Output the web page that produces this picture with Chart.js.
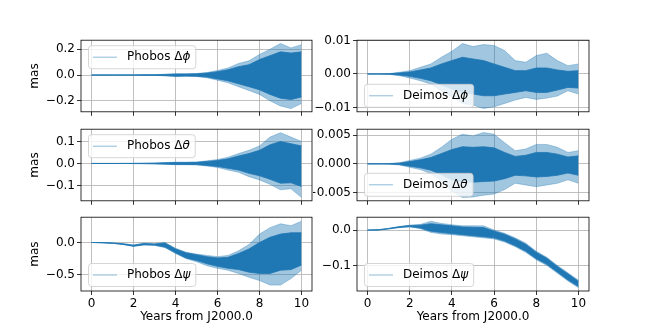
<!DOCTYPE html>
<html>
<head>
<meta charset="utf-8">
<script src="https://cdn.jsdelivr.net/npm/chart.js@4"></script>
<style>
  html, body { margin: 0; padding: 0; background: #fff; }
  #fig { position: relative; width: 654px; height: 327px; overflow: hidden; }
  #fig canvas { position: absolute; }
</style>
</head>
<body>
<div id="fig">
  <canvas id="phobosPhi"   width="313" height="90"  style="left:0;top:31px"></canvas>
  <canvas id="deimosPhi"   width="287" height="90"  style="left:313px;top:31px"></canvas>
  <canvas id="phobosTheta" width="313" height="90"  style="left:0;top:120px"></canvas>
  <canvas id="deimosTheta" width="287" height="90"  style="left:313px;top:120px"></canvas>
  <canvas id="phobosPsi"   width="313" height="119" style="left:0;top:208px"></canvas>
  <canvas id="deimosPsi"   width="287" height="119" style="left:313px;top:208px"></canvas>
</div>
<script>
// sample times (years from J2000.0) at which the envelopes were read
const years = [0, 0.5, 1, 1.5, 2, 2.5, 3, 3.5, 4, 4.5, 5, 5.5, 6, 6.5, 7, 7.5, 8, 8.5, 9, 9.5, 10];
const yearTicks = [0, 2, 4, 6, 8, 10];

// outer = extent of the light spikes, inner = dark core of the signal (mas)
const phobosPhiOuterHi = [0, 0, 0, 0.001, 0.001, 0.002, 0.003, 0.006, 0.01, 0.01, 0.012, 0.02, 0.035, 0.055, 0.09, 0.11, 0.16, 0.2, 0.245, 0.21, 0.235];
const phobosPhiOuterLo = [0, 0, 0, -0.001, -0.001, -0.002, -0.003, -0.006, -0.012, -0.01, -0.012, -0.022, -0.04, -0.06, -0.09, -0.12, -0.15, -0.2, -0.24, -0.26, -0.22];
const phobosPhiInnerHi = [0, 0, 0, 0.0007, 0.0007, 0.0015, 0.0022, 0.0045, 0.0075, 0.0075, 0.009, 0.015, 0.026, 0.041, 0.065, 0.08, 0.12, 0.15, 0.18, 0.17, 0.18];
const phobosPhiInnerLo = [0, 0, 0, -0.0007, -0.0007, -0.0015, -0.0022, -0.0045, -0.009, -0.0075, -0.009, -0.016, -0.03, -0.045, -0.068, -0.09, -0.115, -0.15, -0.18, -0.19, -0.17];
const phobosPhiTicks = [-0.2, 0, 0.2];

const deimosPhiOuterHi = [0, 0, 0.0001, 0.0005, 0.001, 0.002, 0.003, 0.005, 0.0068, 0.0091, 0.0082, 0.0088, 0.0085, 0.007, 0.004, 0.0035, 0.0055, 0.0062, 0.004, 0.0025, 0.003];
const deimosPhiOuterLo = [0, 0, -0.0001, -0.0005, -0.0012, -0.002, -0.003, -0.005, -0.0068, -0.0088, -0.0093, -0.0103, -0.0098, -0.0088, -0.0078, -0.007, -0.0076, -0.0072, -0.0066, -0.005, -0.006];
const deimosPhiInnerHi = [0, 0, 0.00005, 0.0003, 0.0006, 0.0012, 0.0018, 0.003, 0.004, 0.005, 0.0045, 0.004, 0.003, 0.002, 0.001, 0.001, 0.0018, 0.0018, 0.0012, 0.0008, 0.001];
const deimosPhiInnerLo = [0, 0, -0.00005, -0.0003, -0.0007, -0.0013, -0.002, -0.0032, -0.0045, -0.0055, -0.006, -0.0065, -0.0065, -0.006, -0.0055, -0.005, -0.0055, -0.0055, -0.0048, -0.004, -0.0042];
const deimosPhiTicks = [-0.01, 0, 0.01];

const phobosThetaOuterHi = [0, 0, 0, 0, 0.0005, 0.001, 0.002, 0.004, 0.006, 0.006, 0.007, 0.012, 0.018, 0.028, 0.045, 0.06, 0.08, 0.12, 0.14, 0.12, 0.1];
const phobosThetaOuterLo = [0, 0, 0, 0, -0.0005, -0.001, -0.002, -0.004, -0.006, -0.006, -0.007, -0.012, -0.018, -0.03, -0.04, -0.06, -0.075, -0.095, -0.12, -0.115, -0.155];
const phobosThetaInnerHi = [0, 0, 0, 0, 0.0004, 0.0008, 0.0015, 0.003, 0.0045, 0.0045, 0.005, 0.009, 0.0135, 0.021, 0.034, 0.045, 0.06, 0.085, 0.1, 0.09, 0.08];
const phobosThetaInnerLo = [0, 0, 0, 0, -0.0004, -0.0008, -0.0015, -0.003, -0.0045, -0.0045, -0.005, -0.009, -0.0135, -0.022, -0.03, -0.045, -0.056, -0.072, -0.09, -0.088, -0.105];
const phobosThetaTicks = [-0.1, 0, 0.1];

const deimosThetaOuterHi = [0, 0, 0.00005, 0.0002, 0.0006, 0.001, 0.0017, 0.0029, 0.0043, 0.0052, 0.0049, 0.0055, 0.0052, 0.0037, 0.0023, 0.0026, 0.0034, 0.0034, 0.0029, 0.002, 0.0023];
const deimosThetaOuterLo = [0, 0, -0.00005, -0.0002, -0.0006, -0.001, -0.0017, -0.003, -0.0048, -0.0059, -0.0058, -0.0055, -0.0053, -0.0045, -0.0034, -0.0037, -0.004, -0.0037, -0.0034, -0.0028, -0.0034];
const deimosThetaInnerHi = [0, 0, 0.00003, 0.00012, 0.0004, 0.0007, 0.0011, 0.0018, 0.0025, 0.003, 0.0029, 0.003, 0.0028, 0.002, 0.0013, 0.0015, 0.002, 0.002, 0.0017, 0.0012, 0.0014];
const deimosThetaInnerLo = [0, 0, -0.00003, -0.00012, -0.0004, -0.0007, -0.0011, -0.0019, -0.0028, -0.0032, -0.0032, -0.0031, -0.003, -0.0026, -0.002, -0.0021, -0.0023, -0.0022, -0.002, -0.0016, -0.002];
const deimosThetaTicks = [-0.005, 0, 0.005];

const phobosPsiOuterHi = [0, -0.001, -0.006, -0.018, -0.04, -0.01, -0.02, 0, -0.09, -0.15, -0.18, -0.2, -0.22, -0.2, -0.13, -0.03, 0.13, 0.23, 0.29, 0.26, 0.33];
const phobosPsiOuterLo = [0, -0.005, -0.014, -0.032, -0.06, -0.04, -0.045, -0.08, -0.17, -0.25, -0.3, -0.36, -0.4, -0.43, -0.48, -0.54, -0.59, -0.66, -0.66, -0.56, -0.43];
const phobosPsiInnerHi = [0, -0.002, -0.008, -0.02, -0.042, -0.015, -0.024, -0.008, -0.1, -0.16, -0.19, -0.22, -0.24, -0.23, -0.17, -0.1, 0, 0.08, 0.13, 0.15, 0.15];
const phobosPsiInnerLo = [0, -0.004, -0.012, -0.03, -0.058, -0.035, -0.04, -0.07, -0.16, -0.24, -0.28, -0.33, -0.37, -0.4, -0.42, -0.46, -0.48, -0.48, -0.43, -0.42, -0.35];
const phobosPsiTicks = [-0.5, 0];

const deimosPsiOuterHi = [0, 0.001, 0.005, 0.01, 0.014, 0.016, 0.025, 0.019, 0.015, 0.012, 0.012, 0.012, 0, -0.009, -0.022, -0.037, -0.06, -0.077, -0.1, -0.121, -0.142];
const deimosPsiOuterLo = [0, 0, 0.003, 0.007, 0.009, 0.004, -0.0065, -0.011, -0.013, -0.016, -0.019, -0.022, -0.025, -0.034, -0.047, -0.063, -0.084, -0.1, -0.122, -0.144, -0.163];
const deimosPsiInnerHi = [0, 0.001, 0.0045, 0.0095, 0.013, 0.014, 0.018, 0.015, 0.012, 0.009, 0.008, 0.007, -0.003, -0.012, -0.025, -0.04, -0.063, -0.08, -0.103, -0.124, -0.145];
const deimosPsiInnerLo = [0, 0, 0.0035, 0.0075, 0.01, 0.006, -0.003, -0.007, -0.01, -0.013, -0.016, -0.019, -0.022, -0.031, -0.044, -0.06, -0.081, -0.097, -0.119, -0.141, -0.16];
const deimosPsiTicks = [-0.1, 0];

const BLUE = '#1f77b4';
const LIGHT = 'rgba(31,119,180,0.42)';
const FONT = "'DejaVu Sans', sans-serif";

// box around the axes (drawn over the data like matplotlib spines)
const frame = {
    id: 'frame',
    afterDatasetsDraw(chart) {
        const { ctx, chartArea: a } = chart;
        ctx.save();
        ctx.strokeStyle = '#000';
        ctx.lineWidth = 0.8;
        ctx.strokeRect(a.left, a.top, a.right - a.left, a.bottom - a.top);
        ctx.restore();
    }
};

// matplotlib-like legend with an italic greek symbol
const bandLegend = {
    id: 'bandLegend',
    afterDraw(chart, args, opts) {
        const { ctx, chartArea: a } = chart;
        ctx.save();
        ctx.font = "12px " + FONT;
        const w1 = ctx.measureText(opts.name).width;
        ctx.font = "italic 12px " + FONT;
        const w2 = ctx.measureText(opts.symbol).width;
        const bw = 39 + w1 + w2 + 5, bh = 23;
        const x = a.left + 7;
        const y = opts.where === 'upper' ? a.top + 5 : a.bottom - 5 - bh;
        ctx.beginPath();
        ctx.roundRect(x + 0.5, y + 0.5, bw, bh, 3);
        ctx.fillStyle = 'rgba(255,255,255,0.8)';
        ctx.fill();
        ctx.strokeStyle = '#cccccc';
        ctx.lineWidth = 0.8;
        ctx.stroke();
        const my = y + bh / 2 + 0.5;
        ctx.beginPath();
        ctx.moveTo(x + 5, my);
        ctx.lineTo(x + 29, my);
        ctx.strokeStyle = 'rgba(31,119,180,0.5)';
        ctx.lineWidth = 1;
        ctx.stroke();
        ctx.fillStyle = '#000';
        ctx.textBaseline = 'middle';
        ctx.font = "12px " + FONT;
        ctx.fillText(opts.name, x + 39, my);
        ctx.font = "italic 12px " + FONT;
        ctx.fillText(opts.symbol, x + 39 + w1, my);
        ctx.restore();
    }
};

function band(values, color, fill) {
    return {
        data: years.map((t, i) => ({ x: t, y: values[i] })),
        borderColor: color,
        backgroundColor: color,
        borderWidth: 0.8,
        pointRadius: 0,
        fill: fill
    };
}

function panel(id, p) {
    new Chart(document.getElementById(id), {
        type: 'line',
        data: {
            datasets: [
                band(p.innerHi, BLUE, '+1'),
                band(p.innerLo, BLUE, false),
                band(p.outerHi, LIGHT, '+1'),
                band(p.outerLo, LIGHT, false)
            ]
        },
        options: {
            responsive: false,
            animation: false,
            events: [],
            layout: { padding: { top: 8, bottom: 0, left: 0, right: p.right ? 11 : 1 } },
            plugins: {
                legend: { display: false },
                tooltip: { enabled: false },
                bandLegend: { name: p.name, symbol: p.symbol, where: p.where }
            },
            scales: {
                x: {
                    type: 'linear',
                    min: -0.5,
                    max: 10.5,
                    afterBuildTicks: s => { s.ticks = yearTicks.map(v => ({ value: v })); },
                    afterFit: s => { s.height = p.bottom ? 36 : 8; },
                    grid: { color: '#b0b0b0', lineWidth: 0.8, tickColor: '#000', tickLength: 4, tickWidth: 0.8 },
                    border: { display: false },
                    ticks: {
                        display: p.bottom,
                        color: '#000',
                        padding: 2,
                        maxRotation: 0,
                        font: { family: FONT, size: 12 },
                        callback: v => String(v)
                    },
                    title: {
                        display: p.bottom,
                        text: 'Years from J2000.0',
                        color: '#000',
                        font: { family: FONT, size: 12 },
                        padding: { top: 0, bottom: 3 }
                    }
                },
                y: {
                    min: p.min,
                    max: p.max,
                    afterBuildTicks: s => { s.ticks = p.ticks.map(v => ({ value: v })); },
                    afterFit: s => { s.width = p.right ? 44 : 81; },
                    grid: { color: '#b0b0b0', lineWidth: 0.8, tickColor: '#000', tickLength: 4, tickWidth: 0.8 },
                    border: { display: false },
                    ticks: {
                        color: '#000',
                        padding: 2,
                        font: { family: FONT, size: 12 },
                        callback: v => v.toFixed(p.dec).replace('-', '\u2212')
                    },
                    title: {
                        display: !p.right,
                        text: 'mas',
                        color: '#000',
                        font: { family: FONT, size: 12 },
                        padding: { top: 28, bottom: 0 }
                    }
                }
            }
        },
        plugins: [frame, bandLegend]
    });
}

panel('phobosPhi', {
    name: 'Phobos \u0394', symbol: '\u03d5', where: 'upper', right: false, bottom: false,
    outerHi: phobosPhiOuterHi, outerLo: phobosPhiOuterLo, innerHi: phobosPhiInnerHi, innerLo: phobosPhiInnerLo,
    ticks: phobosPhiTicks, dec: 1, min: -0.285, max: 0.27
});
panel('deimosPhi', {
    name: 'Deimos \u0394', symbol: '\u03d5', where: 'lower', right: true, bottom: false,
    outerHi: deimosPhiOuterHi, outerLo: deimosPhiOuterLo, innerHi: deimosPhiInnerHi, innerLo: deimosPhiInnerLo,
    ticks: deimosPhiTicks, dec: 2, min: -0.0113, max: 0.0101
});
panel('phobosTheta', {
    name: 'Phobos \u0394', symbol: '\u03b8', where: 'upper', right: false, bottom: false,
    outerHi: phobosThetaOuterHi, outerLo: phobosThetaOuterLo, innerHi: phobosThetaInnerHi, innerLo: phobosThetaInnerLo,
    ticks: phobosThetaTicks, dec: 1, min: -0.17, max: 0.156
});
panel('deimosTheta', {
    name: 'Deimos \u0394', symbol: '\u03b8', where: 'lower', right: true, bottom: false,
    outerHi: deimosThetaOuterHi, outerLo: deimosThetaOuterLo, innerHi: deimosThetaInnerHi, innerLo: deimosThetaInnerLo,
    ticks: deimosThetaTicks, dec: 3, min: -0.00647, max: 0.00607
});
panel('phobosPsi', {
    name: 'Phobos \u0394', symbol: '\u03c8', where: 'lower', right: false, bottom: true,
    outerHi: phobosPsiOuterHi, outerLo: phobosPsiOuterLo, innerHi: phobosPsiInnerHi, innerLo: phobosPsiInnerLo,
    ticks: phobosPsiTicks, dec: 1, min: -0.752, max: 0.392
});
panel('deimosPsi', {
    name: 'Deimos \u0394', symbol: '\u03c8', where: 'lower', right: true, bottom: true,
    outerHi: deimosPsiOuterHi, outerLo: deimosPsiOuterLo, innerHi: deimosPsiInnerHi, innerLo: deimosPsiInnerLo,
    ticks: deimosPsiTicks, dec: 1, min: -0.1725, max: 0.0365
});
</script>
</body>
</html>
